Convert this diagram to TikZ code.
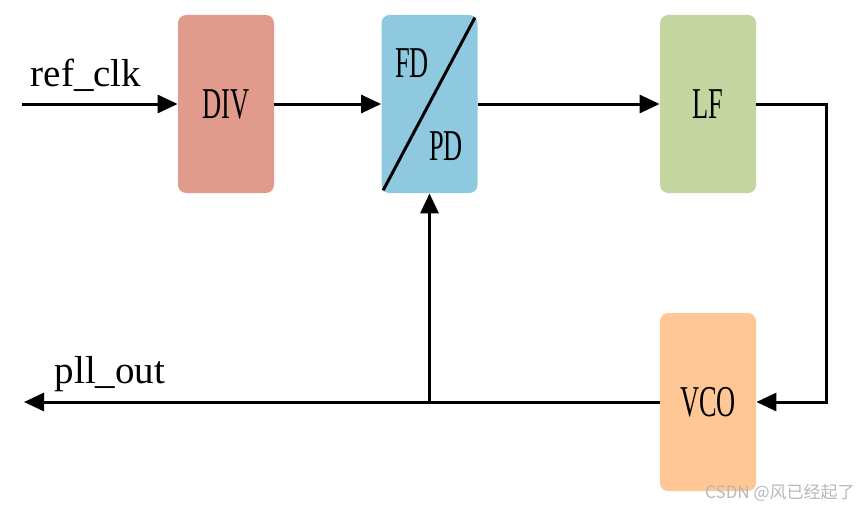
\documentclass[tikz,border=0pt]{standalone}
\usepackage{fontspec}
\setmainfont{Liberation Serif}
\newfontfamily\cjkmark{Noto Sans CJK SC}
\usepackage{tikz}
\usetikzlibrary{arrows.meta}

\definecolor{divred}{RGB}{224,155,140}
\definecolor{pdblue}{RGB}{143,201,224}
\definecolor{lfgreen}{RGB}{197,213,160}
\definecolor{vcoorange}{RGB}{255,198,150}

\newcommand{\narrow}[1]{\scalebox{0.6}[1]{#1}}

\tikzset{
    block/.style={rectangle, rounded corners=4pt, minimum width=48pt, minimum height=89pt,
        inner sep=0pt, font=\fontsize{22}{25}\selectfont},
    sig/.style={line width=1.5pt, -{Triangle[length=10pt,width=9pt]}},
    wire/.style={line width=1.5pt},
    siglabel/.style={anchor=base, inner sep=0pt, font=\fontsize{19.5}{22}\selectfont}
}

\begin{document}
\begin{tikzpicture}[x=0.5pt, y=-0.5pt]
    \useasboundingbox (0,0) rectangle (860,508);

    % blocks
    \node[block, fill=divred] (div) at (226,104) {\narrow{DIV}};
    \node[block, fill=pdblue] (fdpd) at (429.5,104) {};
    \node[block, fill=lfgreen] (lf) at (708,104) {\narrow{LF}};
    \node[block, fill=vcoorange] (vco) at (708,402) {\narrow{VCO}};

    % split of the phase detector
    \draw[wire] ([xshift=1pt,yshift=1.5pt]fdpd.south west) -- ([xshift=-1.5pt,yshift=-1.5pt]fdpd.north east);
    \node[inner sep=0pt, font=\fontsize{22}{25}\selectfont] (fd) at (412,63) {\narrow{FD}};
    \node[inner sep=0pt, font=\fontsize{22}{25}\selectfont] (pd) at (446,146) {\narrow{PD}};

    % signals
    \coordinate (in) at (22,104);
    \coordinate (turn) at (826,104);
    \coordinate (out) at (24,402);
    \coordinate (tap) at (fdpd.south |- vco.west);

    \node[siglabel] (refclk) at (86,87) {ref\_clk};
    \node[siglabel] (pllout) at (110,383) {pll\_out};

    \draw[sig] (in) -- (div);
    \draw[sig] (div) -- (fdpd);
    \draw[sig] (fdpd) -- (lf);
    \draw[sig] (lf.east) -- (turn) |- (vco.east);
    \draw[sig] (vco.west) -- (out);
    \draw[sig] (tap) -- (fdpd.south);

    % watermark
    \node[anchor=east, inner sep=0pt, text=black!28, font=\cjkmark\fontsize{8.5}{10}\selectfont] (mark) at (855,493) {CSDN @风已经起了};
\end{tikzpicture}
\end{document}
